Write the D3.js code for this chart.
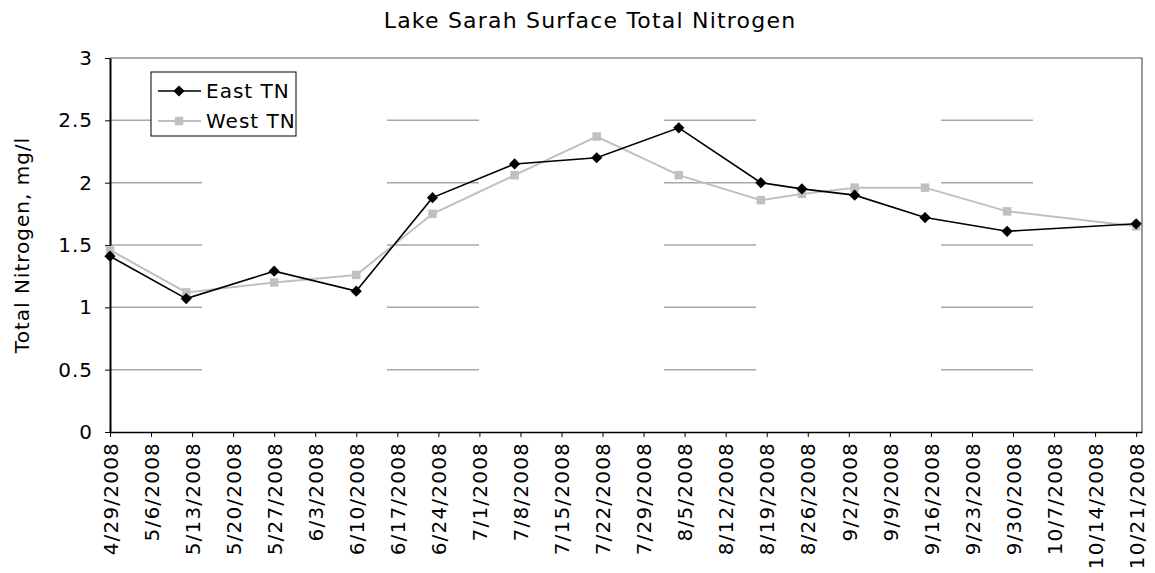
<!DOCTYPE html>
<html>
<head>
<meta charset="utf-8">
<script src="https://cdn.jsdelivr.net/npm/d3@7"></script>
<style>
  body { margin: 0; background: #fff; }
  svg text { font-family: "DejaVu Sans", Verdana, sans-serif; fill: #000; }
</style>
</head>
<body>
<svg id="chart"></svg>
<script>
// sample dates
const dates = ['2008-04-29', '2008-05-12', '2008-05-27', '2008-06-10', '2008-06-23', '2008-07-07',
  '2008-07-21', '2008-08-04', '2008-08-18', '2008-08-25', '2008-09-03', '2008-09-15',
  '2008-09-29', '2008-10-21']
const eastTN = [1.41, 1.07, 1.29, 1.13, 1.88, 2.15, 2.2, 2.44, 2.0, 1.95, 1.9, 1.72, 1.61, 1.67]
const westTN = [1.46, 1.12, 1.2, 1.26, 1.75, 2.06, 2.37, 2.06, 1.86, 1.91, 1.96, 1.96, 1.77, 1.65]
const yTicks = [0, 0.5, 1, 1.5, 2, 2.5, 3]
const seriesNames = ['East TN', 'West TN']

const width = 1155
const height = 573
const margin = {left: 110, right: 13, top: 58, bottom: 141}

const parse = d3.timeParse('%Y-%m-%d')
const fmt = d3.timeFormat('%-m/%-d/%Y')

const series = [
  {name: seriesNames[0], values: eastTN, colour: '#000000', shape: d3.symbolDiamond2, size: 80},
  {name: seriesNames[1], values: westTN, colour: '#c0c0c0', shape: d3.symbolSquare, size: 72}
]

// set up svg container
const svg = d3.select('#chart')
    .attr('width', width)
    .attr('height', height)

// set up scale
const xScale = d3.scaleTime()
    .domain([parse('2008-04-29'), parse('2008-10-22')])
    .range([margin.left, width - margin.right])
const yScale = d3.scaleLinear()
    .domain([0, 3])
    .range([height - margin.bottom, margin.top])

// weekly ticks on tuesdays
const tuesdays = d3.timeDay.range(parse('2008-04-29'), parse('2008-10-22'), 7)

// grid lines (Excel draws them broken here)
svg.append('g')
    .attr('class', 'grid-lines')
    .selectAll('line')
    .data(yTicks.filter(d => d > 0 && d < 3))
    .enter()
    .append('line')
        .attr('x1', margin.left)
        .attr('x2', width - margin.right)
        .attr('y1', d => yScale(d))
        .attr('y2', d => yScale(d))
        .style('stroke', '#a8a8a8')
        .style('stroke-width', 1.5)
        .style('stroke-dasharray', '92,185')

// plot border top and right
svg.append('path')
    .attr('d', `M${margin.left},${yScale(3)}H${width - margin.right}V${yScale(0)}`)
    .style('fill', 'none')
    .style('stroke', '#555')
    .style('stroke-width', 1.2)

// set up axes
const xAxis = d3.axisBottom(xScale)
    .tickValues(tuesdays)
    .tickFormat(fmt)
    .tickSize(5)
    .tickSizeOuter(0)
const yAxis = d3.axisLeft(yScale)
    .tickValues(yTicks)
    .tickFormat(d3.format('~g'))
    .tickSize(5)
    .tickSizeOuter(0)

const gx = svg.append('g')
    .attr('transform', `translate(0, ${yScale(0)})`)
    .call(xAxis)
    .attr('font-size', 20)
    .attr('font-family', null)
gx.select('.domain').style('stroke-width', 1.5)
gx.selectAll('text')
    .style('letter-spacing', '1.2px')
    .attr('text-anchor', 'end')
    .attr('transform', 'rotate(-90)')
    .attr('x', -10)
    .attr('y', 0)
    .attr('dy', '0.36em')

const gy = svg.append('g')
    .attr('transform', `translate(${margin.left}, 0)`)
    .call(yAxis)
    .attr('font-size', 20)
    .attr('font-family', null)
gy.select('.domain').style('stroke-width', 2)
gy.selectAll('text')
    .style('letter-spacing', '1px')
    .attr('x', -17)

// lines and markers
const line = d3.line()
    .x((d, i) => xScale(parse(dates[i])))
    .y(d => yScale(d))

// draw the west series first so east sits on top
series.slice().reverse().forEach(s => {
    svg.append('path')
        .datum(s.values)
        .attr('d', line)
        .style('fill', 'none')
        .style('stroke', s.colour)
        .style('stroke-width', s.name === 'East TN' ? 1.6 : 2)
    svg.append('g')
        .selectAll('path')
        .data(s.values)
        .enter()
        .append('path')
            .attr('d', d3.symbol().type(s.shape).size(s.size))
            .attr('transform', (d, i) => `translate(${xScale(parse(dates[i]))}, ${yScale(d)})`)
            .style('fill', s.colour)
})

// legend
const legend = svg.append('g')
    .attr('transform', 'translate(151, 72)')
legend.append('rect')
    .attr('width', 145)
    .attr('height', 64)
    .style('fill', '#fff')
    .style('stroke', '#000')
    .style('stroke-width', 1)
series.forEach((s, i) => {
    const y = 19 + i * 30
    legend.append('line')
        .attr('x1', 7)
        .attr('x2', 50)
        .attr('y1', y)
        .attr('y2', y)
        .style('stroke', s.colour)
        .style('stroke-width', i === 0 ? 1.6 : 2)
    legend.append('path')
        .attr('d', d3.symbol().type(s.shape).size(s.size))
        .attr('transform', `translate(28, ${y})`)
        .style('fill', s.colour)
    legend.append('text')
        .attr('x', 55)
        .attr('y', y)
        .attr('dy', '0.36em')
        .style('font-size', '20px')
        .style('letter-spacing', '1px')
        .text(s.name)
})

// titles
svg.append('text')
    .attr('x', 590)
    .attr('y', 28)
    .attr('text-anchor', 'middle')
    .style('font-size', '22px')
    .style('letter-spacing', '1.2px')
    .text('Lake Sarah Surface Total Nitrogen')
svg.append('text')
    .attr('text-anchor', 'middle')
    .attr('transform', `translate(29, ${yScale(1.5)}) rotate(-90)`)
    .style('font-size', '20px')
    .style('letter-spacing', '1px')
    .text('Total Nitrogen, mg/l')
</script>
</body>
</html>
